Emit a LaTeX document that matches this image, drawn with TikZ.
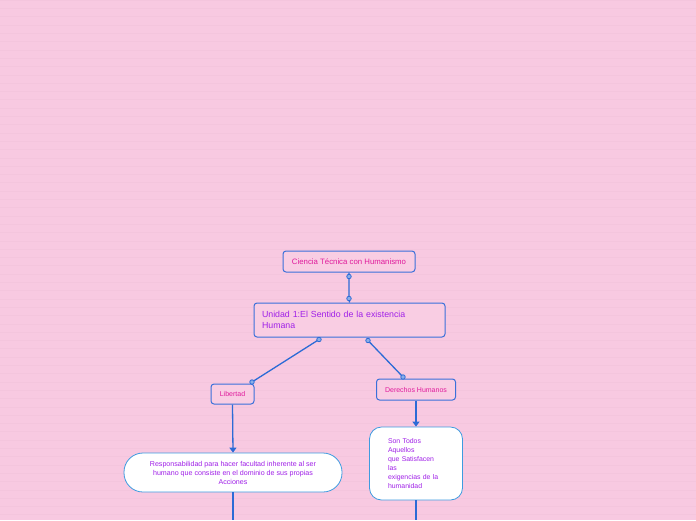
\documentclass[tikz,border=0pt]{standalone}
\usepackage{fontspec}
\setmainfont{Liberation Sans}
\usetikzlibrary{arrows.meta,calc}
\definecolor{bg}{HTML}{F8C9E1}
\definecolor{brick}{HTML}{F4C5DD}
\definecolor{linkblue}{HTML}{2C6BD6}
\definecolor{boxblue}{HTML}{3A70DA}
\definecolor{lightblue}{HTML}{3E9BE0}
\definecolor{magentatxt}{HTML}{E01A9C}
\definecolor{purpletxt}{HTML}{A020E8}
\begin{document}
\begin{tikzpicture}[x=1pt,y=-1pt,
  topicbox/.style={draw=boxblue,line width=1pt,fill=bg!92!white,rounded corners=3pt,
     inner sep=0pt,font=\fontsize{7.3}{9}\selectfont},
  leafbox/.style={draw=lightblue,line width=0.8pt,fill=white,inner sep=0pt,
     text=purpletxt,font=\fontsize{7.1}{9}\selectfont},
  link/.style={draw=linkblue,line width=1.3pt},
  arrowlink/.style={draw=linkblue,line width=1.3pt,-{Triangle[width=7pt,length=5pt]}},
  enddot/.style={circle,draw=linkblue,fill=linkblue!55!white,line width=0.8pt,inner sep=0pt,minimum size=4.5pt}]
\fill[bg] (0,0) rectangle (696,520);
\useasboundingbox (0,0) rectangle (696,520);
% faint brick rows
\foreach \r in {0,...,62} {
  \draw[brick,line width=0.3pt] (0,{8.3*\r}) -- (696,{8.3*\r});
}

\node[topicbox,text=magentatxt,minimum width=132pt,minimum height=21pt,font=\fontsize{7.8}{9}\selectfont] (n1) at (349,261.5) {Ciencia Técnica con Humanismo};
\node[topicbox,text=purpletxt,minimum width=191pt,minimum height=34pt,text width=175pt,align=left,
  font=\fontsize{8.8}{11.5}\selectfont] (n2) at (349.5,320) {Unidad 1:El Sentido de la existencia\\Humana};
\node[topicbox,text=magentatxt,minimum width=43pt,minimum height=20pt,font=\fontsize{7}{9}\selectfont] (lib) at (232.5,394) {Libertad};
\node[topicbox,text=magentatxt,minimum width=79pt,minimum height=21pt,font=\fontsize{7}{9}\selectfont] (der) at (416,389.5) {Derechos Humanos};
\node[leafbox,rounded corners=19pt,minimum width=218pt,minimum height=39pt,align=center] (resp) at (233,472.5)
  {Responsabilidad para hacer facultad inherente al ser\\humano que consiste en el dominio de sus propias\\Acciones};
\node[leafbox,rounded corners=12pt,minimum width=93pt,minimum height=73pt,text width=56pt,align=left,
  font=\fontsize{6.9}{9}\selectfont] (son) at (416,463.5)
  {Son Todos\\Aquellos\\que Satisfacen\\las\\exigencias de la\\humanidad};

\coordinate (a1) at ($(n1.south)+(0,4)$);
\coordinate (a2) at ($(n2.north)+(-0.5,-4)$);
\coordinate (b1) at ($(n2.south)+(-30.5,2)$);
\coordinate (b2) at (252,382);
\coordinate (c1) at ($(n2.south)+(18.5,3)$);
\coordinate (c2) at (403,377);
\draw[link] (n1.south) -- (a1) -- (a2) -- (n2.north);
\draw[link] (b1) -- (b2);
\draw[link] (c1) -- (c2);
\foreach \p in {a1,a2,b1,b2,c1,c2} { \node[enddot] at (\p) {}; }

\draw[arrowlink] (der.south) -- (son.north);
\draw[arrowlink] (lib.south) -- (resp.north);
\coordinate (e1) at (233,520);
\coordinate (e2) at (416,520);
\draw[link] (resp.south) -- (e1);
\draw[link] (son.south) -- (e2);
\end{tikzpicture}
\end{document}
